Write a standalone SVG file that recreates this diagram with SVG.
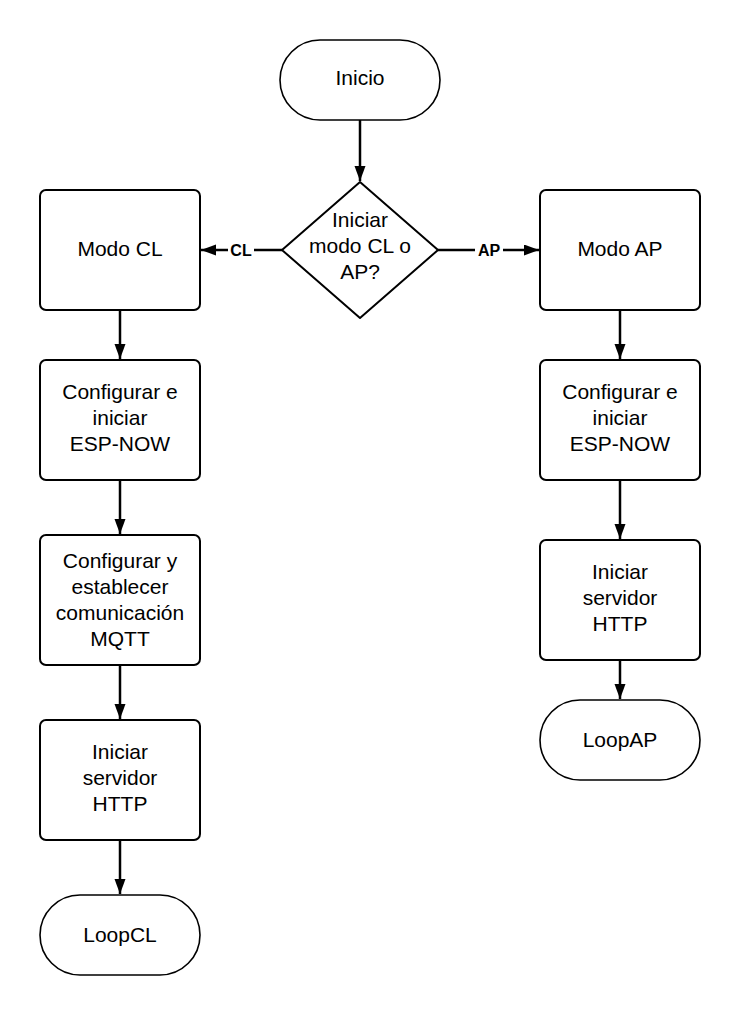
<svg xmlns="http://www.w3.org/2000/svg" width="740" height="1015" viewBox="0 0 740 1015">
<style>
.box{fill:#fff;stroke:#000;stroke-width:2}
.term{fill:#fff;stroke:#000;stroke-width:1.6}
.t{font-family:"Liberation Sans",Arial,sans-serif;font-size:21px;fill:#000;text-anchor:middle}
.lbl{font-family:"Liberation Sans",Arial,sans-serif;font-size:16px;font-weight:bold;fill:#000;text-anchor:middle}
.c{stroke:#000;stroke-width:2.5;fill:none;marker-end:url(#ah)}
</style>
<defs>
<marker id="ah" markerUnits="userSpaceOnUse" markerWidth="16" markerHeight="12" refX="15" refY="5.5" orient="auto">
<path d="M0,0 L15,5.5 L0,11 z" fill="#000"/>
</marker>
</defs>
<rect width="740" height="1015" fill="#fff"/>
<g id="connectors">
<line class="c" x1="360" y1="120" x2="360" y2="181"/>
<line class="c" x1="282" y1="250" x2="201" y2="250"/>
<line class="c" x1="438" y1="250" x2="539" y2="250"/>
<line class="c" x1="120" y1="310" x2="120" y2="359"/>
<line class="c" x1="120" y1="480" x2="120" y2="534"/>
<line class="c" x1="120" y1="665" x2="120" y2="719"/>
<line class="c" x1="120" y1="840" x2="120" y2="894"/>
<line class="c" x1="620" y1="310" x2="620" y2="359"/>
<line class="c" x1="620" y1="480" x2="620" y2="539"/>
<line class="c" x1="620" y1="660" x2="620" y2="699"/>
<rect x="228" y="240" width="26" height="18" fill="#fff"/>
<text class="lbl" x="241" y="256">CL</text>
<rect x="475" y="240" width="28" height="18" fill="#fff"/>
<text class="lbl" x="489" y="256">AP</text>
</g>
<g id="inicio">
<rect class="term" x="280" y="40" width="160" height="80" rx="40" ry="40"/>
<text class="t" x="360" y="85">Inicio</text>
</g>
<g id="decision">
<polygon class="box" points="360,182 438,250 360,318 282,250" stroke-linejoin="round"/>
<text class="t" x="360" y="227">Iniciar</text>
<text class="t" x="360" y="253">modo CL o</text>
<text class="t" x="360" y="279">AP?</text>
</g>
<g id="modo-cl">
<rect class="box" x="40" y="190" width="160" height="120" rx="6"/>
<text class="t" x="120" y="256">Modo CL</text>
</g>
<g id="espnow-cl">
<rect class="box" x="40" y="360" width="160" height="120" rx="6"/>
<text class="t" x="120" y="399">Configurar e</text>
<text class="t" x="120" y="425">iniciar</text>
<text class="t" x="120" y="451">ESP-NOW</text>
</g>
<g id="mqtt-cl">
<rect class="box" x="40" y="535" width="160" height="130" rx="6"/>
<text class="t" x="120" y="568">Configurar y</text>
<text class="t" x="120" y="594">establecer</text>
<text class="t" x="120" y="620">comunicación</text>
<text class="t" x="120" y="646">MQTT</text>
</g>
<g id="http-cl">
<rect class="box" x="40" y="720" width="160" height="120" rx="6"/>
<text class="t" x="120" y="759">Iniciar</text>
<text class="t" x="120" y="785">servidor</text>
<text class="t" x="120" y="811">HTTP</text>
</g>
<g id="loop-cl">
<rect class="term" x="40" y="895" width="160" height="80" rx="40" ry="40"/>
<text class="t" x="120" y="942">LoopCL</text>
</g>
<g id="modo-ap">
<rect class="box" x="540" y="190" width="160" height="120" rx="6"/>
<text class="t" x="620" y="256">Modo AP</text>
</g>
<g id="espnow-ap">
<rect class="box" x="540" y="360" width="160" height="120" rx="6"/>
<text class="t" x="620" y="399">Configurar e</text>
<text class="t" x="620" y="425">iniciar</text>
<text class="t" x="620" y="451">ESP-NOW</text>
</g>
<g id="http-ap">
<rect class="box" x="540" y="540" width="160" height="120" rx="6"/>
<text class="t" x="620" y="579">Iniciar</text>
<text class="t" x="620" y="605">servidor</text>
<text class="t" x="620" y="631">HTTP</text>
</g>
<g id="loop-ap">
<rect class="term" x="540" y="700" width="160" height="80" rx="40" ry="40"/>
<text class="t" x="620" y="747">LoopAP</text>
</g>
</svg>
